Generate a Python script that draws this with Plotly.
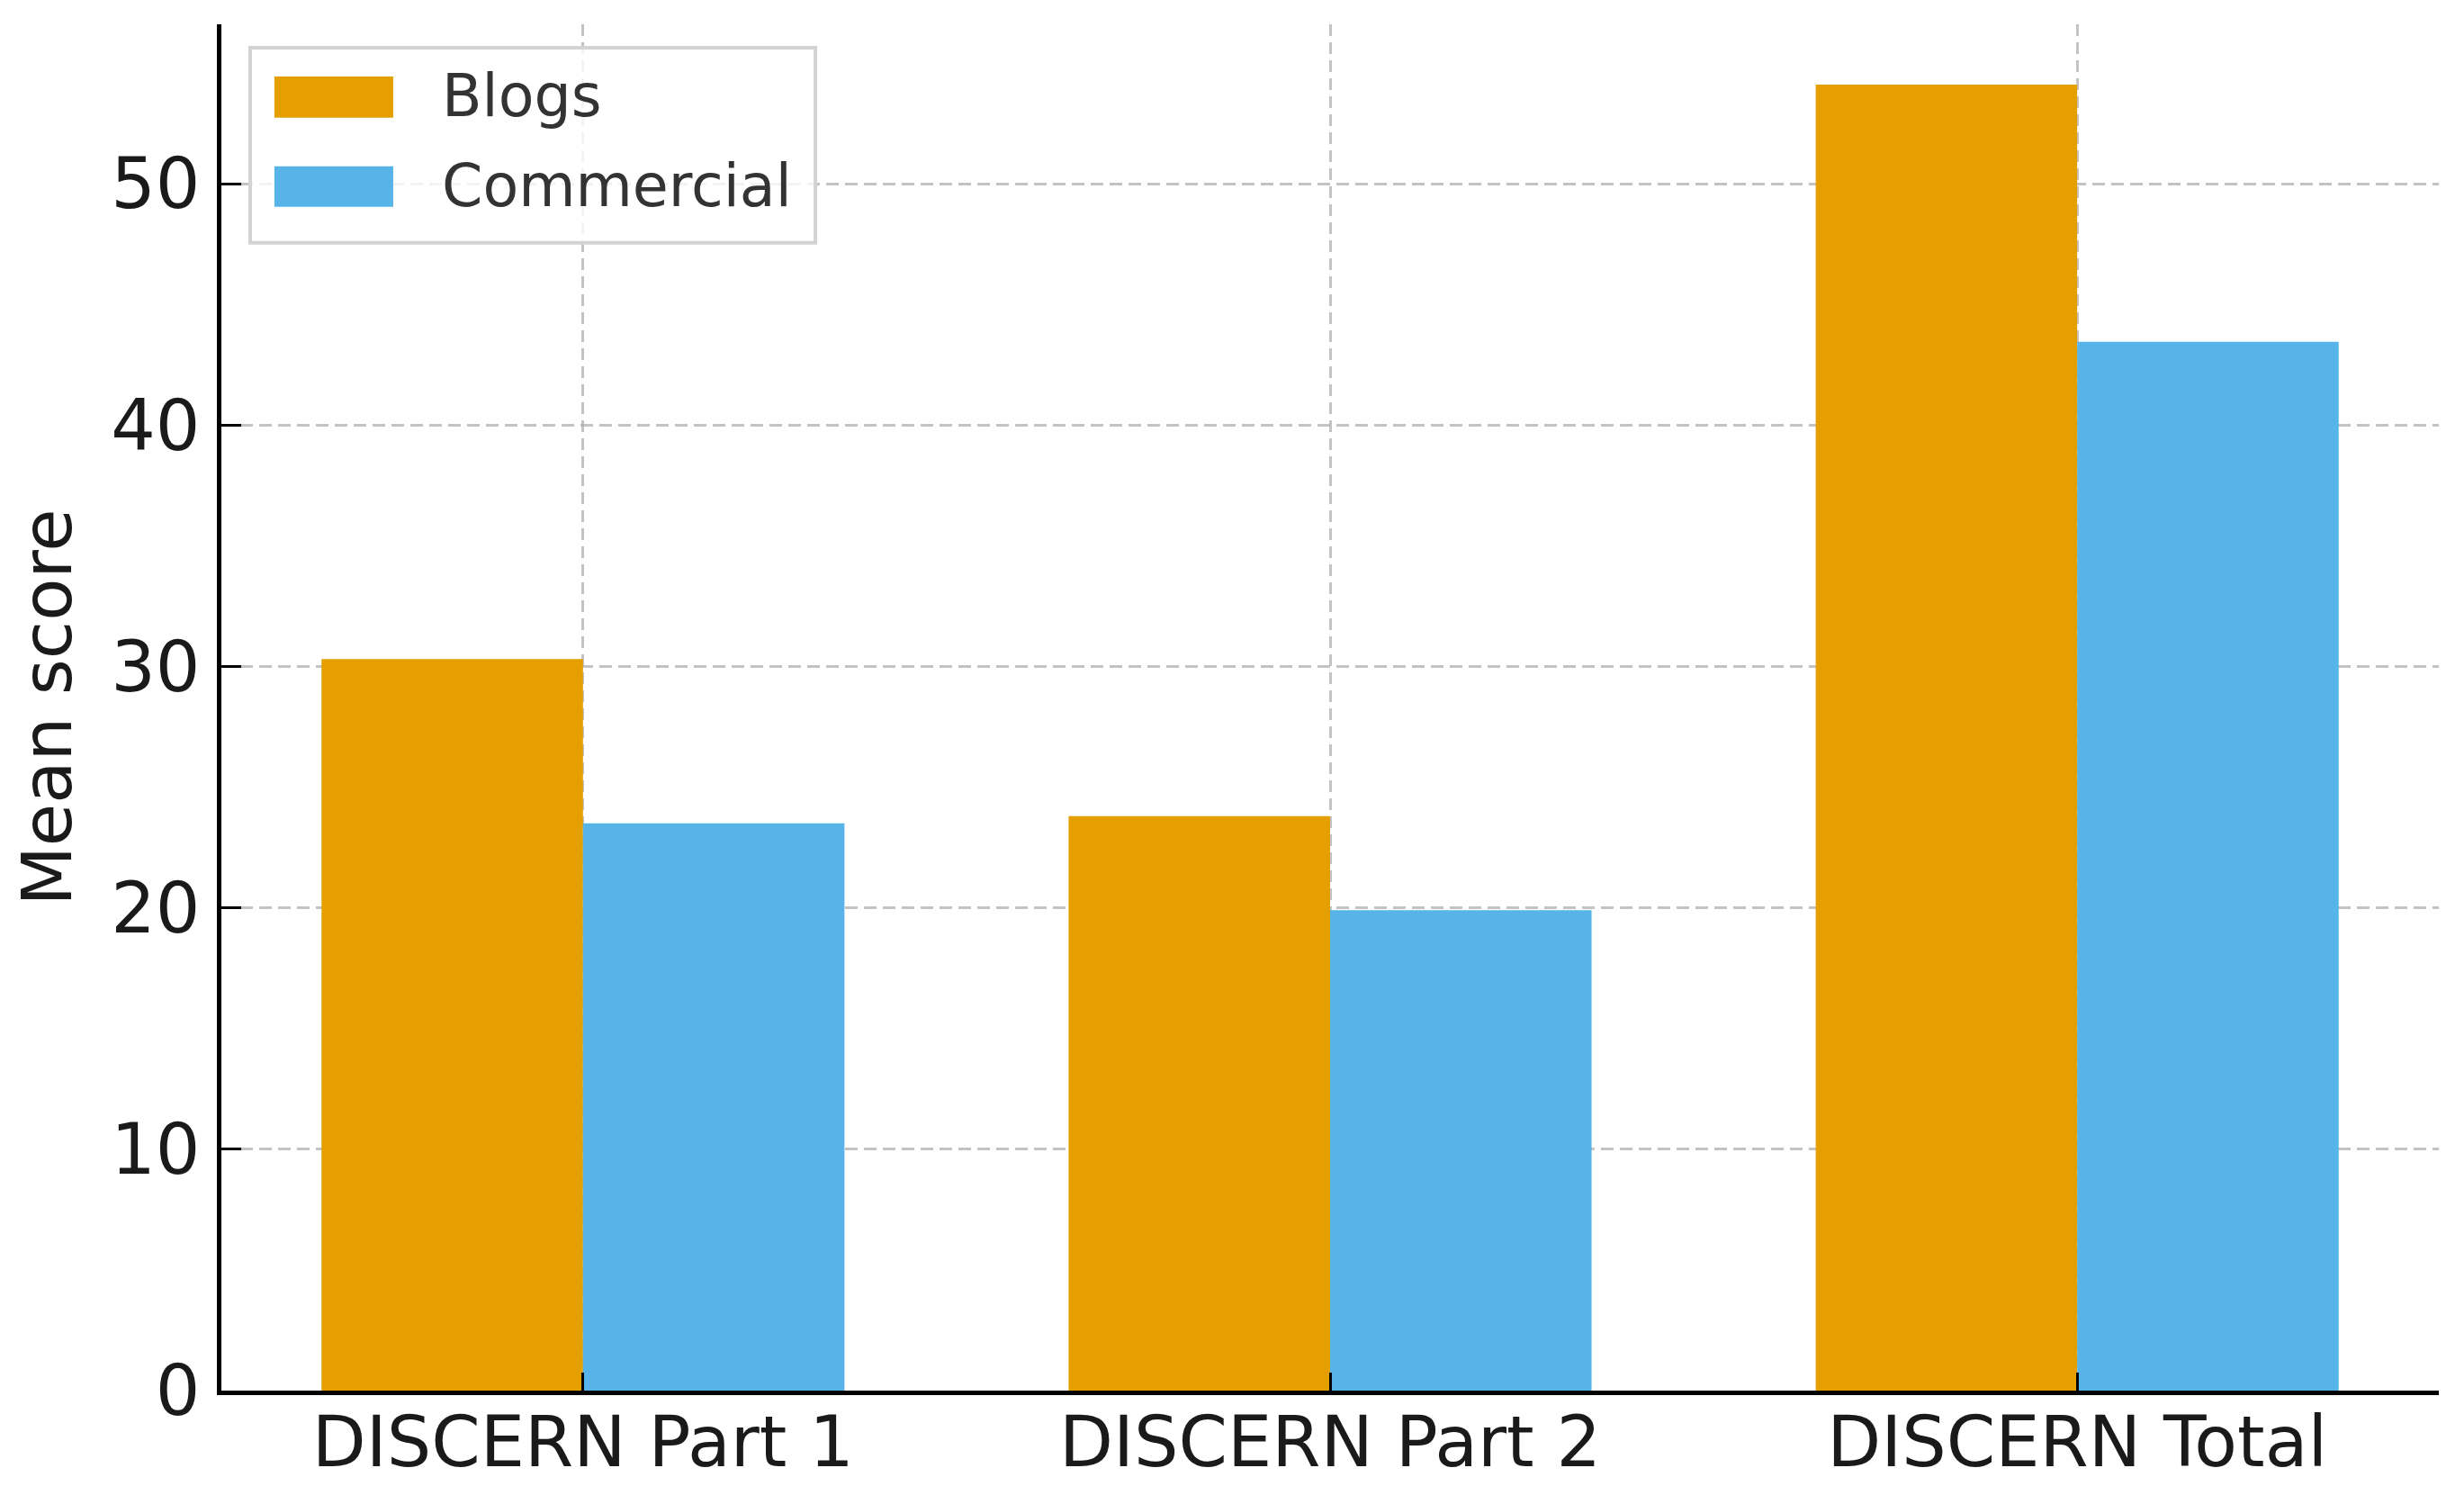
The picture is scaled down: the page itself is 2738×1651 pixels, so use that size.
import plotly.graph_objects as go

# DISCERN mean scores per source type
categories = ["DISCERN Part 1", "DISCERN Part 2", "DISCERN Total"]
blogs = [30.3, 23.8, 54.1]
commercial = [23.5, 19.9, 43.45]
series_names = ["Blogs", "Commercial"]
series_colors = ["#E69F00", "#56B4E9"]

FONT = "DejaVu Sans"
INK = "#1a1a1a"
GRID = "rgba(175,175,175,0.75)"

fig = go.Figure()
for name, vals, col in zip(series_names, [blogs, commercial], series_colors):
    fig.add_trace(go.Bar(
        x=categories, y=vals, name=name,
        marker=dict(color=col, line=dict(width=0)),
        showlegend=False,
    ))

fig.update_layout(
    width=2738, height=1651,
    paper_bgcolor="white", plot_bgcolor="white",
    barmode="group", bargap=0.3, bargroupgap=0,
    margin=dict(l=238, r=36, t=19, b=112),
    font=dict(family=FONT, size=78, color=INK),
)

fig.update_xaxes(
    range=[-0.484, 2.484],
    showline=True, linecolor="black", linewidth=5,
    ticks="inside", ticklen=20, tickwidth=3, tickcolor="black",
    showgrid=True, gridcolor=GRID, gridwidth=2.5, griddash="13px,7px",
    layer="above traces",
    tickfont=dict(size=78, color=INK),
    ticklabelstandoff=-15,
)
fig.update_yaxes(
    range=[0, 56.6], dtick=10,
    showline=True, linecolor="black", linewidth=5,
    ticks="inside", ticklen=22, tickwidth=3, tickcolor="black",
    showgrid=True, gridcolor=GRID, gridwidth=2.5, griddash="14px,7px",
    zeroline=False,
    layer="above traces",
    tickfont=dict(size=78, color=INK),
    ticklabelstandoff=3,
    title=dict(text="Mean score", font=dict(size=77, color=INK), standoff=30),
)

# legend drawn by hand so the swatches keep their wide matplotlib shape
fig.add_shape(type="rect", xref="paper", yref="paper",
              x0=0.0130, x1=0.2679, y0=0.8401, y1=0.9829,
              fillcolor="rgba(255,255,255,0.8)",
              line=dict(color="#d3d3d3", width=4), layer="above")
sw_y = [(0.9316, 0.9618), (0.8664, 0.8961)]
txt_y = [0.9477, 0.8819]
for name, col, (y0, y1), ty in zip(series_names, series_colors, sw_y, txt_y):
    fig.add_shape(type="rect", xref="paper", yref="paper",
                  x0=0.0239, x1=0.0775, y0=y0, y1=y1,
                  fillcolor=col, line=dict(width=0), layer="above")
    fig.add_annotation(xref="paper", yref="paper", x=0.0985, y=ty,
                       text=name, showarrow=False, xanchor="left", yanchor="middle",
                       font=dict(family=FONT, size=65, color="#333333"))

fig.write_html("out.html")
